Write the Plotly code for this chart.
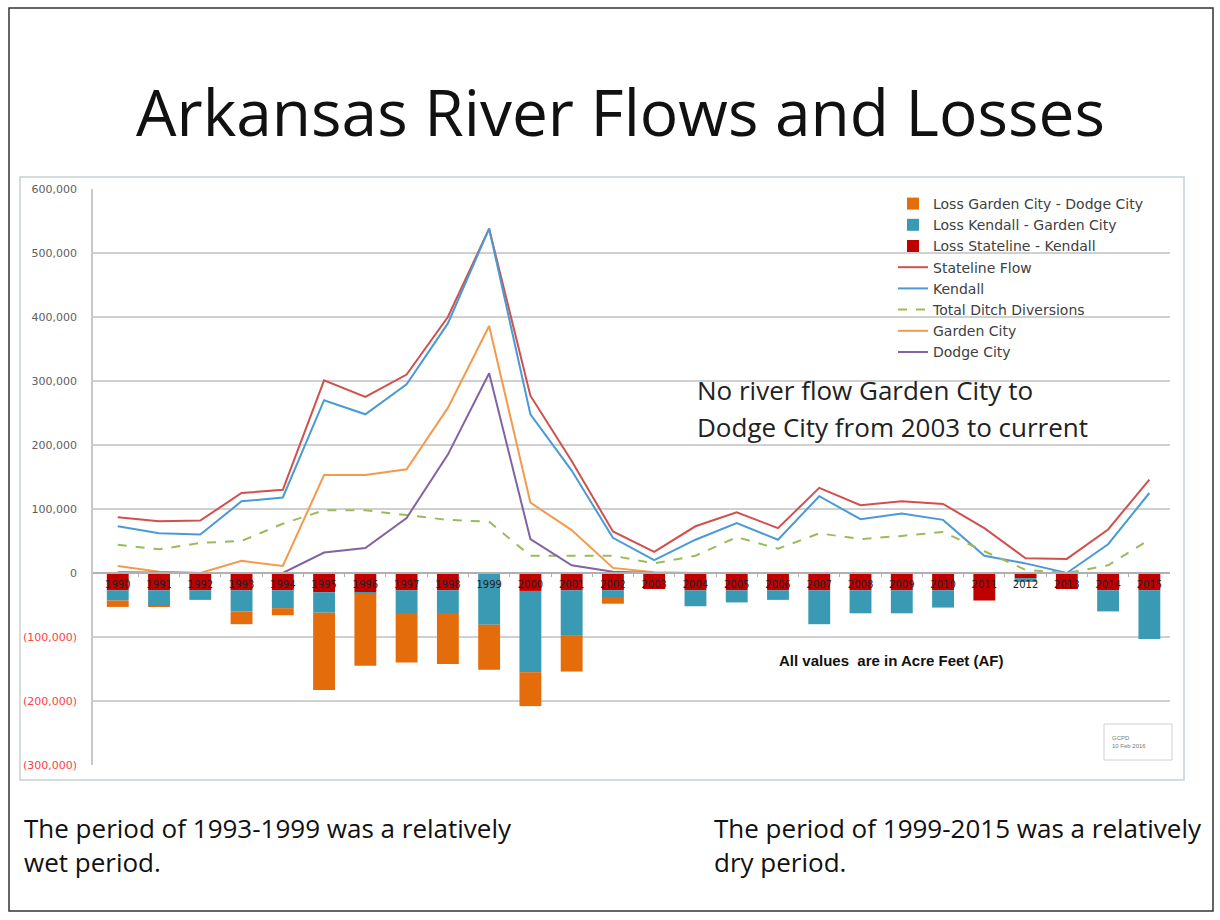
import plotly.graph_objects as go

# ---------------- data (acre feet) ----------------
years = list(range(1990, 2016))

stateline_flow = [87000, 81000, 82000, 125000, 130000, 301000, 275000, 310000, 400000, 538000,
                  277000, 175000, 65000, 33000, 73000, 95000, 70000, 133000, 106000, 112000,
                  108000, 70000, 23000, 22000, 68000, 146000]
kendall = [73000, 62000, 60000, 112000, 118000, 270000, 248000, 295000, 390000, 538000,
           248000, 160000, 55000, 20000, 52000, 78000, 52000, 120000, 84000, 93000,
           83000, 27000, 15000, 0, 45000, 125000]
ditch_diversions = [44000, 37000, 47000, 50000, 77000, 98000, 98000, 90000, 83000, 80000,
                    27000, 27000, 27000, 15000, 27000, 56000, 38000, 62000, 53000, 58000,
                    64000, 34000, 5000, 0, 12000, 52000]
garden_city = [11000, 2000, 0, 19000, 11000, 153000, 153000, 162000, 258000, 386000,
               110000, 67000, 8000, 1000, 0, 0, 0, 0, 0, 0,
               0, 0, 0, 0, 0, 0]
dodge_city = [1000, 0, 0, 0, 0, 32000, 39000, 86000, 185000, 312000,
              53000, 12000, 2000, 0, 0, 0, 0, 0, 0, 0,
              0, 0, 0, 0, 0, 0]

loss_stateline_kendall = [-27000, -27000, -27000, -27000, -27000, -30000, -30000, -27000, -27000, 0,
                          -28000, -27000, -27000, -25000, -27000, -27000, -27000, -27000, -27000, -27000,
                          -27000, -43000, -8000, -25000, -27000, -27000]
loss_kendall_garden = [-16000, -25000, -15000, -33000, -28000, -32000, -2000, -37000, -37000, -81000,
                       -127000, -70000, -12000, 0, -25000, -19000, -15000, -53000, -36000, -36000,
                       -27000, 0, -6000, 0, -33000, -76000]
loss_garden_dodge = [-10000, -1000, 0, -20000, -11000, -121000, -113000, -76000, -78000, -70000,
                     -53000, -57000, -9000, 0, 0, 0, 0, 0, 0, 0,
                     0, 0, 0, 0, 0, 0]

y_ticks = [-300000, -200000, -100000, 0, 100000, 200000, 300000, 400000, 500000, 600000]


def tick_label(v):
    if v < 0:
        return "<span style='color:#FF4040'>(" + format(-v, ",") + ")</span>"
    return format(v, ",")


# ---------------- geometry helpers ----------------
W, H = 1220, 920
L, R, T, B = 93, 50, 189, 155


def fx(px):
    return (px - L) / (W - L - R)


def fy(py):
    return 1 - (py - T) / (H - T - B)


fig = go.Figure()

# bars (first trace sits next to zero)
fig.add_trace(go.Bar(x=years, y=loss_stateline_kendall, name="Loss Stateline - Kendall",
                     marker=dict(color="#C00000", line=dict(width=0)), legendrank=3))
fig.add_trace(go.Bar(x=years, y=loss_kendall_garden, name="Loss Kendall - Garden City",
                     marker=dict(color="#3A9AB4", line=dict(width=0)), legendrank=2))
fig.add_trace(go.Bar(x=years, y=loss_garden_dodge, name="Loss Garden City - Dodge City",
                     marker=dict(color="#E46C0A", line=dict(width=0)), legendrank=1))

# lines
fig.add_trace(go.Scatter(x=years, y=stateline_flow, mode="lines", name="Stateline Flow",
                         line=dict(color="#D0504D", width=2), legendrank=4))
fig.add_trace(go.Scatter(x=years, y=kendall, mode="lines", name="Kendall",
                         line=dict(color="#4A9AD6", width=2), legendrank=5))
fig.add_trace(go.Scatter(x=years, y=ditch_diversions, mode="lines", name="Total Ditch Diversions",
                         line=dict(color="#9BBB59", width=2, dash="dash"), legendrank=6))
fig.add_trace(go.Scatter(x=years, y=garden_city, mode="lines", name="Garden City",
                         line=dict(color="#F39A4C", width=2), legendrank=7))
fig.add_trace(go.Scatter(x=years, y=dodge_city, mode="lines", name="Dodge City",
                         line=dict(color="#8064A2", width=2), legendrank=8))

fig.update_layout(
    width=W, height=H,
    margin=dict(l=L, r=R, t=T, b=B, autoexpand=False),
    paper_bgcolor="white", plot_bgcolor="white",
    barmode="relative", bargap=0.47,
    font=dict(family="DejaVu Sans, Arial", color="#404040"),
    legend=dict(x=fx(893), y=fy(188), xanchor="left", yanchor="top",
                bgcolor="rgba(0,0,0,0)", font=dict(family="DejaVu Sans", size=14, color="#404040"),
                itemwidth=30, tracegroupgap=0),
    showlegend=True,
)

fig.update_xaxes(
    range=[1989.4, 2015.5],
    tickmode="array", tickvals=years, ticktext=[str(y) for y in years],
    tickfont=dict(family="DejaVu Sans", size=10, color="#222222"),
    anchor="free", position=1 / 3,
    showline=True, linecolor="#B0B0B0", linewidth=1.5,
    showgrid=False, zeroline=False, ticks="",
    ticklabelstandoff=2,
    minor=dict(tickvals=[y + 0.5 for y in years[:-1]], ticks="outside", ticklen=3,
               tickcolor="#B0B0B0", showgrid=False),
)

fig.update_yaxes(
    range=[-300000, 600000],
    tickmode="array", tickvals=y_ticks, ticktext=[tick_label(v) for v in y_ticks],
    tickfont=dict(family="DejaVu Sans", size=11, color="#606060"),
    showgrid=True, gridcolor="#D0D0D0", gridwidth=1.5,
    zeroline=False,
    showline=True, linecolor="#C8C8C8", linewidth=1.5,
    ticks="", ticklabelstandoff=12,
)

ann = []
ann.append(dict(text="Arkansas River Flows and Losses", x=fx(620), y=fy(112),
                xanchor="center", yanchor="middle",
                font=dict(family="Open Sans", size=64, color="#111111")))
ann.append(dict(text="No river flow Garden City to", x=fx(695), y=fy(390),
                xanchor="left", yanchor="middle",
                font=dict(family="Open Sans", size=26, color="#222222")))
ann.append(dict(text="Dodge City from 2003 to current", x=fx(695), y=fy(427),
                xanchor="left", yanchor="middle",
                font=dict(family="Open Sans", size=26, color="#222222")))
ann.append(dict(text="<b>All values  are in Acre Feet (AF)</b>", x=fx(891), y=fy(660),
                xanchor="center", yanchor="middle",
                font=dict(family="Arial", size=15, color="#111111")))
ann.append(dict(text="The period of 1993-1999 was a relatively", x=fx(22), y=fy(828),
                xanchor="left", yanchor="middle",
                font=dict(family="Open Sans", size=26, color="#111111")))
ann.append(dict(text="wet period.", x=fx(22), y=fy(862),
                xanchor="left", yanchor="middle",
                font=dict(family="Open Sans", size=26, color="#111111")))
ann.append(dict(text="The period of 1999-2015 was a relatively", x=fx(712), y=fy(828),
                xanchor="left", yanchor="middle",
                font=dict(family="Open Sans", size=26, color="#111111")))
ann.append(dict(text="dry period.", x=fx(712), y=fy(862),
                xanchor="left", yanchor="middle",
                font=dict(family="Open Sans", size=26, color="#111111")))
ann.append(dict(text="GCPD<br>10 Feb 2016", x=fx(1110), y=fy(742),
                xanchor="left", yanchor="middle", align="left",
                font=dict(family="Arial", size=6, color="#777777")))
for a in ann:
    a.update(xref="paper", yref="paper", showarrow=False)
fig.update_layout(annotations=ann)

shapes = [
    # page border
    dict(type="rect", x0=fx(9), x1=fx(1213), y0=fy(911), y1=fy(8),
         line=dict(color="#333333", width=1.5)),
    # chart area border
    dict(type="rect", x0=fx(20), x1=fx(1184), y0=fy(780), y1=fy(177),
         line=dict(color="#C5D2D6", width=1.5)),
    # small stamp box
    dict(type="rect", x0=fx(1104), x1=fx(1172), y0=fy(760), y1=fy(724),
         line=dict(color="#D0D0D0", width=1)),
]
for s in shapes:
    s.update(xref="paper", yref="paper", layer="below")
fig.update_layout(shapes=shapes)

fig.write_html("out.html", config={"displayModeBar": False},
               post_script="document.body.style.margin='0';")
